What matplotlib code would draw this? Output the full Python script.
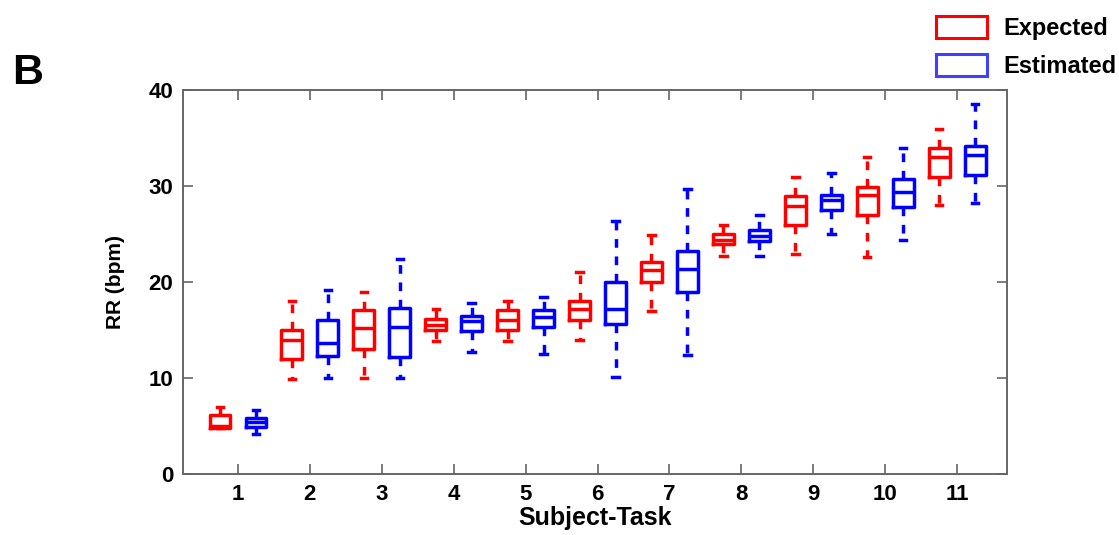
import matplotlib
matplotlib.use("Agg")
from matplotlib import pyplot as plt
from matplotlib.patches import Patch
import numpy as np

plt.rcParams['font.family'] = ['Liberation Sans', 'DejaVu Sans']
plt.rcParams['font.weight'] = 'bold'

########## data ##########
subjects = ['1', '2', '3', '4', '5', '6', '7', '8', '9', '10', '11']

# Expected (red)
exp_lo  = [4.8, 9.9, 10.0, 13.9, 13.9, 14.0, 17.0, 22.7, 22.9, 22.6, 28.0]
exp_q1  = [4.8, 12.0, 13.0, 15.0, 15.0, 16.0, 20.0, 24.0, 25.9, 27.0, 30.9]
exp_med = [5.0, 14.0, 15.2, 15.5, 16.0, 17.2, 21.2, 24.4, 27.9, 29.1, 33.0]
exp_q3  = [6.1, 15.0, 17.1, 16.1, 17.1, 18.0, 22.1, 25.0, 29.0, 29.9, 33.9]
exp_hi  = [7.0, 18.0, 19.0, 17.2, 18.0, 21.0, 24.9, 25.9, 30.9, 33.0, 35.9]

# Estimated (blue)
est_lo  = [4.2, 10.0, 10.0, 12.7, 12.5, 10.1, 12.4, 22.7, 25.0, 24.4, 28.2]
est_q1  = [4.9, 12.3, 12.2, 14.9, 15.3, 15.6, 19.0, 24.3, 27.5, 27.8, 31.1]
est_med = [5.4, 13.6, 15.3, 15.9, 16.3, 17.2, 21.4, 24.8, 28.5, 29.4, 33.2]
est_q3  = [5.8, 16.0, 17.3, 16.5, 17.1, 20.0, 23.2, 25.4, 29.1, 30.7, 34.2]
est_hi  = [6.7, 19.2, 22.4, 17.8, 18.4, 26.3, 29.7, 27.0, 31.3, 33.9, 38.5]


def make_stats(lo, q1, med, q3, hi):
    return [dict(whislo=a, q1=b, med=c, q3=d, whishi=e, fliers=[])
            for a, b, c, d, e in zip(lo, q1, med, q3, hi)]


fig = plt.figure(figsize=(11.19, 5.35), dpi=100)
ax = fig.add_axes([0.1635, 0.114, 0.7365, 0.718])

pos = np.arange(1, len(subjects) + 1)
lw = 2.5
for stats, col, off in [(make_stats(exp_lo, exp_q1, exp_med, exp_q3, exp_hi), 'red', -0.25),
                        (make_stats(est_lo, est_q1, est_med, est_q3, est_hi), 'blue', 0.25)]:
    ax.bxp(stats, positions=pos + off, widths=0.29, showfliers=False,
           boxprops=dict(color=col, linewidth=lw),
           medianprops=dict(color=col, linewidth=lw),
           whiskerprops=dict(color=col, linewidth=lw, linestyle=(0, (2.5, 2.5))),
           capprops=dict(color=col, linewidth=lw),
           capwidths=0.09, manage_ticks=False)

ax.set_xlim(0.235, 11.695)
ax.set_ylim(0, 40)
ax.set_xticks(pos)
ax.set_xticklabels(subjects)
ax.set_yticks([0, 10, 20, 30, 40])
ax.tick_params(direction='in', top=True, right=True, labelsize=16, length=7,
               color='#666666', width=1.2, pad=7)
for s in ax.spines.values():
    s.set_color('#666666')
    s.set_linewidth(1.4)
for t in ax.get_xticklabels() + ax.get_yticklabels():
    t.set_fontweight('bold')

ax.set_xlabel('Subject-Task', fontsize=18, fontweight='bold', labelpad=1)
ax.set_ylabel('RR (bpm)', fontsize=15, fontweight='bold', labelpad=17)

fig.text(0.011, 0.843, 'B', fontsize=31, fontweight='bold')

handles = [Patch(facecolor='white', edgecolor='red', linewidth=2.2),
           Patch(facecolor='white', edgecolor='#4040ff', linewidth=2.2)]
fig.legend(handles, ['Expected', 'Estimated'], loc='upper right',
           bbox_to_anchor=(0.998, 0.97), frameon=False, borderaxespad=0.0,
           borderpad=0.0, prop=dict(weight='bold', size=17),
           handlelength=2.15, handleheight=1.05,
           labelspacing=0.6, handletextpad=0.7)

fig.savefig('out.png', dpi=100)
